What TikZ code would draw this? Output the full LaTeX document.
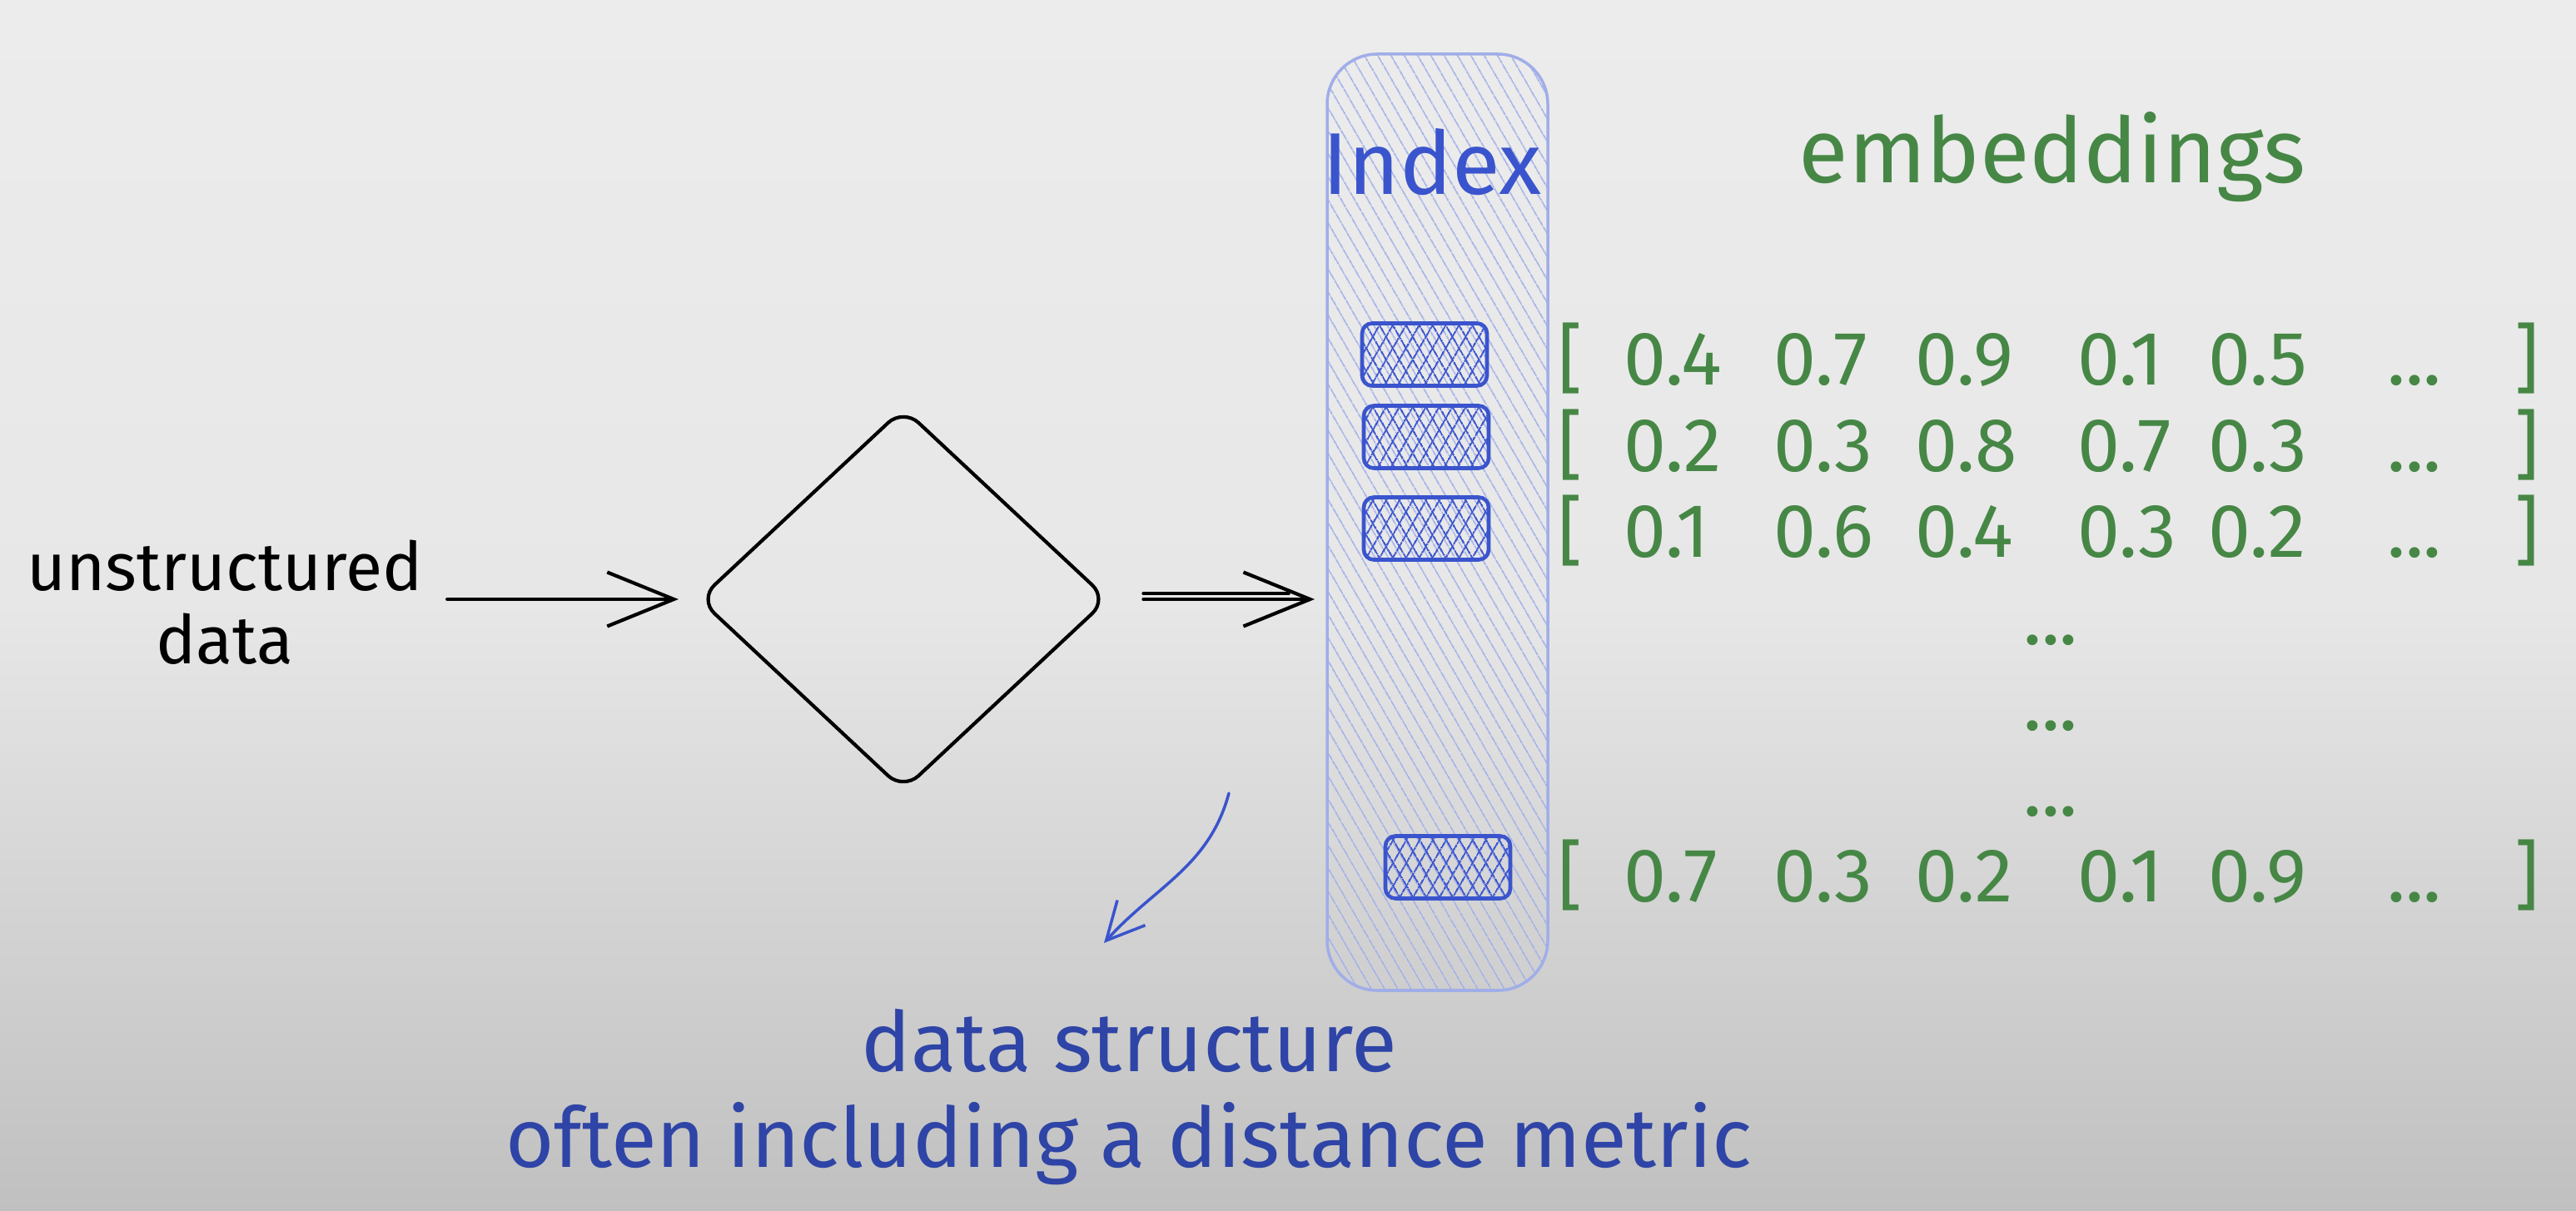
\documentclass[tikz,border=0pt]{standalone}
\usepackage{fontspec}
\setmainfont{Fira Sans}
\usetikzlibrary{positioning, shapes.geometric, arrows.meta, patterns.meta}

\definecolor{embgreen}{RGB}{70,135,70}
\definecolor{inkblue}{RGB}{46,68,166}
\definecolor{cellblue}{RGB}{58,84,205}
\definecolor{hatchblue}{RGB}{160,174,232}
\definecolor{bgtop}{RGB}{236,236,236}
\definecolor{bgmid}{RGB}{231,231,231}
\definecolor{bgbot}{RGB}{192,192,192}

\pgfdeclareverticalshading{paper}{100bp}{color(0bp)=(bgbot); color(25bp)=(bgbot); color(50bp)=(bgmid); color(75bp)=(bgtop); color(100bp)=(bgtop)}

\tikzset{
    sketch/.style={line width=1.2pt, line cap=round, line join=round},
    flowarrow/.style={sketch, -{Straight Barb[length=0.8cm, width=0.65cm, line width=1.2pt]}},
    hintarrow/.style={draw=cellblue, line width=1pt, line cap=round, -{Straight Barb[length=0.45cm, width=0.45cm, line width=1pt]}},
    indexbar/.style={draw=hatchblue, line width=1pt, rounded corners=0.6cm, minimum width=2.65cm, minimum height=11.25cm, inner sep=0pt,
        pattern={Lines[angle=-60, distance=4pt, line width=0.55pt]}, pattern color=hatchblue},
    cellbox/.style={draw=cellblue, line width=1.3pt, rounded corners=0.12cm, minimum width=1.5cm, minimum height=0.75cm, inner sep=0pt,
        preaction={pattern={Lines[angle=60, distance=4pt, line width=0.6pt]}, pattern color=cellblue},
        pattern={Lines[angle=-60, distance=4pt, line width=0.6pt]}, pattern color=cellblue},
    vecnum/.style={text=embgreen, font=\fontsize{26}{30}\selectfont, inner sep=0pt, anchor=base west},
    vecmark/.style={vecnum, anchor=base},
}

\begin{document}
\begin{tikzpicture}

    \shade[shading=paper] (0,0) rectangle (30.94,14.54);
    \useasboundingbox (0,0) rectangle (30.94,14.54);

    % input and transform
    \node[align=center, font=\fontsize{23}{25}\selectfont] (data) at (2.70,7.30) {unstructured\\data};

    \node[diamond, draw, sketch, minimum width=4.92cm, minimum height=4.60cm, rounded corners=0.25cm] (encoder) at (10.85,7.34) {};

    \draw[flowarrow, shorten <=0.17cm, shorten >=0.22cm] (data.east |- encoder.west) -- (encoder.west);

    % ----------

    \node[indexbar] (index) at (17.265,8.265) {};
    \node[text=cellblue, font=\fontsize{30}{36}\selectfont] (indexL) at (17.20,12.59) {Index};

    \draw[flowarrow, line width=1pt, shorten <=0.40cm, shorten >=0.14cm] (encoder.east) -- (encoder.east -| index.west);
    \draw[sketch, line width=1pt, shorten <=0.40cm, shorten >=0.45cm] ([yshift=2pt]encoder.east) -- ([yshift=2pt]encoder.east -| index.west);

    \node[cellbox] (cell1) at (17.11,10.28) {};
    \node[cellbox] (cell2) at (17.13,9.29) {};
    \node[cellbox] (cell3) at (17.13,8.19) {};
    \node[cellbox] (cell4) at (17.39,4.12) {};

    % ----------

    \node[text=embgreen, font=\fontsize{31}{36}\selectfont, anchor=base] (embtitle) at (24.65,12.34) {embeddings};

    \foreach \r/\y/\vals in {1/9.91/{0.4,0.7,0.9,0.1,0.5}, 2/8.87/{0.2,0.3,0.8,0.7,0.3}, 3/7.84/{0.1,0.6,0.4,0.3,0.2}, 4/3.71/{0.7,0.3,0.2,0.1,0.9}} {
        \node[vecmark] (open\r) at (18.86,\y) {[};
        \foreach \v [count=\c] in \vals {
            \pgfmathsetmacro{\x}{{19.50,21.30,23.00,24.95,26.52}[\c-1]}
            \node[vecnum] (v\r-\c) at (\x,\y) {\v};
        }
        \node[vecmark] (more\r) at (29.00,\y) {...};
        \node[vecmark] (close\r) at (30.35,\y) {]};
    }

    \foreach \y [count=\i] in {6.80,5.77,4.74} {
        \node[vecmark] (gap\i) at (24.63,\y) {...};
    }

    % -------

    \coordinate (hintstart) at (14.76,5.01);
    \coordinate (hintend) at (13.26,3.21);
    \draw[hintarrow] (hintstart) to[out=-105, in=48] (hintend);

    \node[text=inkblue, font=\fontsize{28.5}{33}\selectfont, anchor=base] (note) at (13.56,1.67) {data structure};
    \node[text=inkblue, font=\fontsize{28.5}{33}\selectfont, anchor=base] (noteL) at (13.56,0.52) {often including a distance metric};

\end{tikzpicture}
\end{document}
